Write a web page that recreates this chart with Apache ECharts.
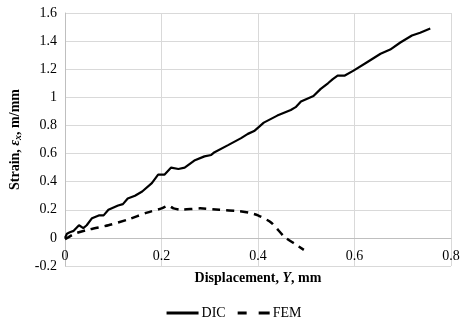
<!DOCTYPE html>
<html>
<head>
<meta charset="utf-8">
<script src="https://cdn.jsdelivr.net/npm/echarts@6/dist/echarts.min.js"></script>
<style>
html,body{margin:0;padding:0;background:#fff;}
#c{width:468px;height:322px;}
</style>
</head>
<body>
<div id="c"></div>
<script>
const seriesNames = ['DIC', 'FEM'];
const dicData = [[0,0],[0.004,0.03],[0.01,0.04],[0.018,0.05],[0.029,0.09],[0.038,0.07],[0.045,0.09],[0.056,0.14],[0.07,0.16],[0.08,0.16],[0.09,0.2],[0.11,0.23],[0.12,0.24],[0.13,0.28],[0.145,0.30],[0.16,0.33],[0.18,0.39],[0.193,0.45],[0.206,0.45],[0.22,0.50],[0.235,0.49],[0.248,0.50],[0.268,0.55],[0.289,0.58],[0.303,0.59],[0.31,0.61],[0.338,0.66],[0.365,0.71],[0.379,0.74],[0.392,0.76],[0.412,0.82],[0.44,0.87],[0.468,0.91],[0.478,0.93],[0.489,0.97],[0.515,1.01],[0.53,1.06],[0.545,1.10],[0.555,1.13],[0.565,1.155],[0.58,1.155],[0.598,1.19],[0.626,1.25],[0.654,1.31],[0.674,1.34],[0.695,1.39],[0.719,1.44],[0.736,1.46],[0.757,1.49]];
const femData = [[0,-0.01],[0.02,0.03],[0.05,0.06],[0.09,0.09],[0.13,0.13],[0.17,0.18],[0.2,0.21],[0.214,0.23],[0.225,0.21],[0.24,0.20],[0.28,0.21],[0.32,0.20],[0.36,0.19],[0.38,0.18],[0.40,0.16],[0.427,0.11],[0.454,0.01],[0.475,-0.04],[0.495,-0.085]];
const xMin = 0, xMax = 0.8, xStep = 0.2;
const yMin = -0.2, yMax = 1.6, yStep = 0.2;

const font = '"Liberation Serif", "Times New Roman", serif';
const chart = echarts.init(document.getElementById('c'));
chart.setOption({
  animation: false,
  textStyle: { fontFamily: font },
  grid: { left: 63, right: 17, top: 13, bottom: 56 },
  legend: {
    bottom: -3, left: 'center',
    itemWidth: 32, itemHeight: 3, itemGap: 12,
    textStyle: { fontFamily: font, fontSize: 14, color: '#000', padding: [0, 0, 0, -2] },
    data: [
      { name: seriesNames[0], icon: 'path://M0,0 L32,0 L32,3 L0,3 Z' },
      { name: seriesNames[1], icon: 'path://M0,0 L9,0 L9,3 L0,3 Z M21,0 L32,0 L32,3 L21,3 Z' }
    ]
  },
  xAxis: {
    type: 'value', min: xMin, max: xMax, interval: xStep,
    name: '{b|Displacement, }{bi|Y}{b|, mm}',
    nameLocation: 'middle', nameGap: 5, nameMoveOverlap: false,
    nameTextStyle: { rich: {
      b: { fontFamily: font, fontWeight: 'bold', fontSize: 14, color: '#000' },
      bi: { fontFamily: font, fontWeight: 'bold', fontStyle: 'italic', fontSize: 14, color: '#000' }
    } },
    axisLine: { show: true, onZero: true, lineStyle: { color: '#bfbfbf' } },
    axisTick: { show: false },
    axisLabel: { color: '#000', fontSize: 14, fontFamily: font, margin: -17, formatter: v => String(+v.toFixed(1)) },
    splitLine: { show: true, lineStyle: { color: '#d9d9d9' } }
  },
  yAxis: {
    type: 'value', min: yMin, max: yMax, interval: yStep,
    name: '{b|Strain, }{i|ε}{sub|x}{b|, m/mm}',
    nameLocation: 'middle', nameGap: 42, nameRotate: 90,
    nameTextStyle: { rich: {
      b: { fontFamily: font, fontWeight: 'bold', fontSize: 14, color: '#000' },
      i: { fontFamily: font, fontWeight: 'bold', fontStyle: 'italic', fontSize: 14, color: '#000' },
      sub: { fontFamily: font, fontWeight: 'bold', fontStyle: 'italic', fontSize: 10, color: '#000', verticalAlign: 'bottom', padding: [6, 0, 0, 0] }
    } },
    axisLine: { show: true, lineStyle: { color: '#bfbfbf' } },
    axisTick: { show: false },
    axisLabel: { color: '#000', fontSize: 14, fontFamily: font, margin: 8, formatter: v => String(+v.toFixed(1)) },
    splitLine: { show: true, lineStyle: { color: '#d9d9d9' } }
  },
  series: [
    { name: seriesNames[0], type: 'line', data: dicData, showSymbol: false, symbol: 'none',
      lineStyle: { color: '#000', width: 2.2 }, itemStyle: { color: '#000' } },
    { name: seriesNames[1], type: 'line', data: femData, showSymbol: false, symbol: 'none', smooth: 0.2,
      lineStyle: { color: '#000', width: 2.5, type: [8, 6] }, itemStyle: { color: '#000' } }
  ]
});
</script>
</body>
</html>
